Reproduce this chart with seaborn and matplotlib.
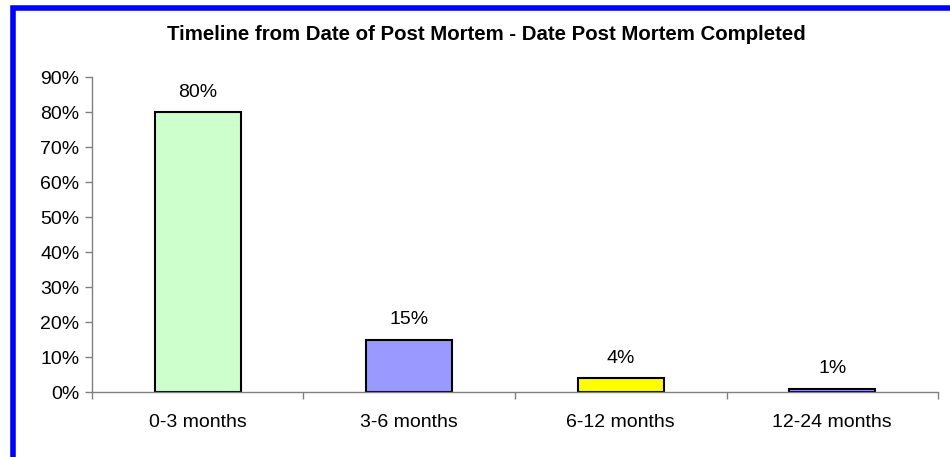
import matplotlib
matplotlib.use("Agg")
import matplotlib.pyplot as plt
import seaborn as sns
import pandas as pd
from matplotlib.patches import Rectangle
from matplotlib.ticker import FixedLocator, PercentFormatter

categories = ["0-3 months", "3-6 months", "6-12 months", "12-24 months"]
values = [80, 15, 4, 1]
bar_colors = ["#CCFFCC", "#9999FF", "#FFFF00", "#9999FF"]
y_ticks = [0, 10, 20, 30, 40, 50, 60, 70, 80, 90]
title = "Timeline from Date of Post Mortem - Date Post Mortem Completed"

sns.set_style("white")
plt.rcParams["font.family"] = ["Liberation Sans", "DejaVu Sans"]
plt.rcParams["text.color"] = "black"

df = pd.DataFrame({"period": categories, "pct": values})

fig = plt.figure(figsize=(9.5, 4.57), dpi=100)
ax = fig.add_axes([0.0968, 0.1422, 0.8906, 0.6893])

sns.barplot(data=df, x="period", y="pct", hue="period", palette=bar_colors,
            legend=False, width=0.405, edgecolor="black", linewidth=1.5,
            saturation=1, ax=ax)

# value labels above the bars
for i, v in enumerate(values):
    ax.text(i, v + 3.2, f"{v}%", ha="center", va="bottom", fontsize=14,
            color="black")

ax.set_xlim(-0.5, 3.5)
ax.set_ylim(0, 90)
ax.set_yticks(y_ticks)
ax.yaxis.set_major_formatter(PercentFormatter(decimals=0))
ax.set_xlabel("")
ax.set_ylabel("")

# tick marks sit between categories, Excel-style
ax.xaxis.set_minor_locator(FixedLocator([-0.5, 0.5, 1.5, 2.5, 3.5]))
ax.tick_params(axis="x", which="major", length=0, labelsize=14, pad=16,
               labelcolor="black")
ax.tick_params(axis="x", which="minor", length=5, color="#808080", width=1,
               direction="out", bottom=True)
ax.tick_params(axis="y", length=5, color="#808080", width=1, labelsize=14,
               direction="out", left=True, pad=4, labelcolor="black")

for side in ["top", "right"]:
    ax.spines[side].set_visible(False)
for side in ["left", "bottom"]:
    ax.spines[side].set_color("#808080")
    ax.spines[side].set_linewidth(1)

fig.text(486 / 950, 1 - 35 / 457, title, ha="center", va="center",
         fontsize=14.7, fontweight="bold", color="black")

border = Rectangle((12.5 / 950, -0.1), 1.2, 1.1 - 8.5 / 457, transform=fig.transFigure,
                   fill=False, edgecolor="#0000FF", linewidth=4, clip_on=False)
fig.patches.append(border)

fig.savefig("out.png", dpi=100)
